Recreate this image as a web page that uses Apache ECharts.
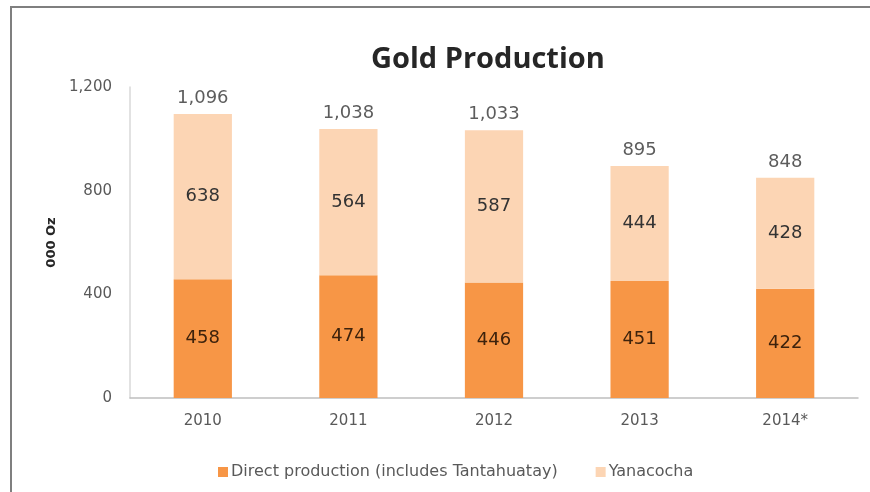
<!DOCTYPE html>
<html>
<head>
<meta charset="utf-8">
<script src="https://cdn.jsdelivr.net/npm/echarts@6/dist/echarts.min.js"></script>
<style>
  html, body { margin: 0; padding: 0; background: #ffffff; }
  #chart { width: 870px; height: 492px; }
</style>
</head>
<body>
<div id="chart"></div>
<script>
// Gold production, thousand ounces
const years = ['2010', '2011', '2012', '2013', '2014*'];
const directProduction = [458, 474, 446, 451, 422];
const yanacocha = [638, 564, 587, 444, 428];
const totals = [1096, 1038, 1033, 895, 848];
const yTicks = [0, 400, 800, 1200];

function withCommas(v) {
  return String(v).replace(/\B(?=(\d{3})+(?!\d))/g, ',');
}

const numFont = 'DejaVu Sans';
const chart = echarts.init(document.getElementById('chart'), null, { renderer: 'canvas' });

chart.setOption({
  animation: false,
  backgroundColor: '#ffffff',
  title: {
    text: 'Gold Production',
    left: 366,
    top: 40,
    textStyle: { fontFamily: 'Open Sans', fontWeight: 'bold', fontSize: 29, color: '#262626' }
  },
  graphic: [{
    type: 'rect',
    shape: { x: 11, y: 7, width: 900, height: 600 },
    style: { fill: 'none', stroke: '#7f7f7f', lineWidth: 2 },
    silent: true
  }],
  legend: {
    data: ['Direct production (includes Tantahuatay)', 'Yanacocha'],
    left: 213,
    top: 459,
    itemWidth: 10,
    itemHeight: 10,
    itemGap: 38,
    icon: 'rect',
    textStyle: { fontFamily: numFont, fontSize: 16, color: '#595959', padding: [0, 0, 0, -2] }
  },
  grid: { left: 130, right: 12, top: 87, bottom: 94 },
  xAxis: {
    type: 'category',
    data: years,
    axisLine: { lineStyle: { color: '#bfbfbf', width: 1.5 } },
    axisTick: { show: false },
    axisLabel: { margin: 16, fontFamily: numFont, fontSize: 15, color: '#595959' }
  },
  yAxis: {
    type: 'value',
    min: yTicks[0],
    max: yTicks[yTicks.length - 1],
    interval: yTicks[1] - yTicks[0],
    name: '000 Oz',
    nameLocation: 'middle',
    nameGap: 72,
    nameTextStyle: { fontFamily: numFont, fontWeight: 'bold', fontSize: 13, color: '#262626' },
    axisLine: { show: true, lineStyle: { color: '#d9d9d9', width: 1.5 } },
    axisTick: { show: false },
    splitLine: { show: false },
    axisLabel: {
      margin: 18,
      fontFamily: numFont,
      fontSize: 15,
      color: '#595959',
      formatter: v => withCommas(v)
    }
  },
  series: [
    {
      name: 'Direct production (includes Tantahuatay)',
      type: 'bar',
      stack: 'gold',
      barWidth: '40%',
      data: directProduction,
      itemStyle: { color: '#F79646' },
      label: {
        show: true,
        position: 'inside',
        fontFamily: numFont,
        fontSize: 18,
        color: '#3d220c'
      }
    },
    {
      name: 'Yanacocha',
      type: 'bar',
      stack: 'gold',
      barWidth: '40%',
      data: yanacocha,
      itemStyle: { color: '#FCD5B4' },
      label: {
        show: true,
        position: 'inside',
        fontFamily: numFont,
        fontSize: 18,
        color: '#333333'
      }
    },
    {
      name: 'Total',
      type: 'scatter',
      data: totals,
      symbolSize: 0,
      silent: true,
      label: {
        show: true,
        position: 'top',
        distance: 7,
        fontFamily: numFont,
        fontSize: 18,
        color: '#333333',
        formatter: p => withCommas(p.value)
      }
    }
  ]
});
</script>
</body>
</html>
